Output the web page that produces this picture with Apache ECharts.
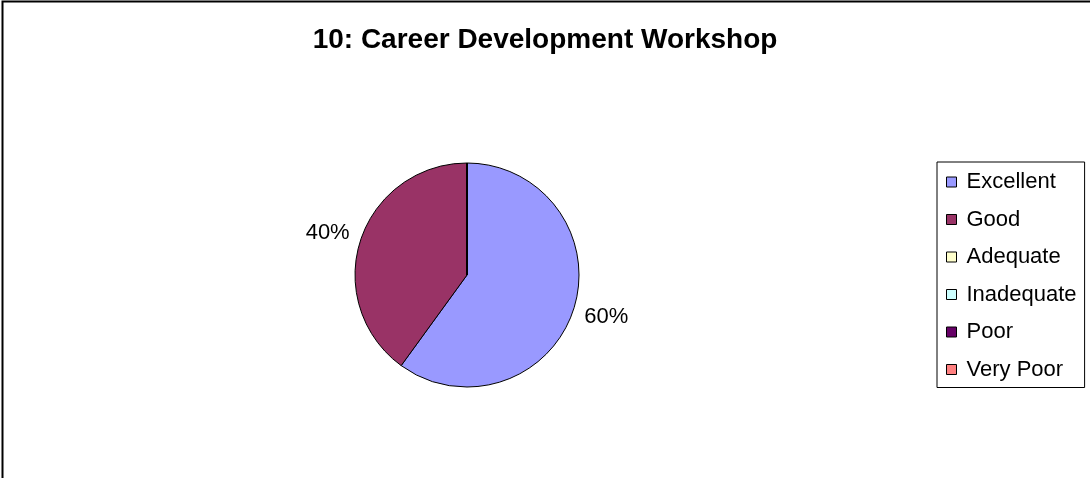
<!DOCTYPE html>
<html>
<head>
<meta charset="utf-8">
<script src="https://cdn.jsdelivr.net/npm/echarts@6/dist/echarts.min.js"></script>
<style>
  html, body { margin: 0; padding: 0; background: #fff; }
  #chart { width: 1090px; height: 478px; }
</style>
</head>
<body>
<div id="chart"></div>
<script>
// Workshop rating breakdown
const chartTitle = '10: Career Development Workshop';
const categories = ['Excellent', 'Good', 'Adequate', 'Inadequate', 'Poor', 'Very Poor'];
const shares = [60, 40, 0, 0, 0, 0];
const palette = ['#9999FF', '#993366', '#FFFFCC', '#CCFFFF', '#660066', '#FF8080'];

const FONT = '"Liberation Sans", Arial, sans-serif';
const CENTER = [467, 275];
const PIE_R = 112;

const pieData = categories.map((name, i) => ({ name, value: shares[i] }));

const chart = echarts.init(document.getElementById('chart'), null, { renderer: 'canvas' });

chart.setOption({
  backgroundColor: '#ffffff',
  animation: false,
  color: palette,
  graphic: [{
    type: 'rect',
    silent: true,
    shape: { x: 2.5, y: 1.5, width: 3000, height: 3000 },
    style: { fill: 'none', stroke: '#000', lineWidth: 2 }
  }],
  title: {
    text: chartTitle,
    left: 'center',
    top: 21,
    textStyle: { fontFamily: FONT, fontSize: 28, fontWeight: 'bold', color: '#000' }
  },
  legend: {
    orient: 'vertical',
    left: 937,
    top: 162,
    padding: [9, 8, 7, 9],
    itemGap: 15.5,
    itemWidth: 10,
    itemHeight: 10,
    icon: 'rect',
    borderColor: '#000',
    borderWidth: 1,
    itemStyle: { borderColor: '#000', borderWidth: 1 },
    textStyle: { fontFamily: FONT, fontSize: 22, color: '#000', padding: [0, 0, 0, 5] },
    data: categories
  },
  series: [{
    // the pie itself
    type: 'pie',
    center: CENTER,
    radius: PIE_R,
    startAngle: 90,
    clockwise: true,
    stillShowZeroSum: false,
    itemStyle: { borderColor: '#000', borderWidth: 1 },
    label: { show: false },
    labelLine: { show: false },
    emphasis: { disabled: true },
    data: pieData
  }, {
    // transparent ring that carries the percentage labels, centred just outside the pie
    type: 'pie',
    silent: true,
    center: CENTER,
    radius: [PIE_R, 175],
    startAngle: 90,
    clockwise: true,
    stillShowZeroSum: false,
    itemStyle: { color: 'rgba(0,0,0,0)', borderWidth: 0 },
    label: {
      show: true,
      position: 'inside',
      fontFamily: FONT,
      fontSize: 22,
      color: '#000',
      formatter: p => (p.value > 0 ? p.value + '%' : '')
    },
    // pull the labels slightly toward the pie's horizontal midline
    labelLayout: p => {
      const cy = p.labelRect.y + p.labelRect.height / 2;
      return { dy: cy < CENTER[1] ? 3 : -3 };
    },
    labelLine: { show: false },
    emphasis: { disabled: true },
    tooltip: { show: false },
    data: pieData
  }]
});
</script>
</body>
</html>
